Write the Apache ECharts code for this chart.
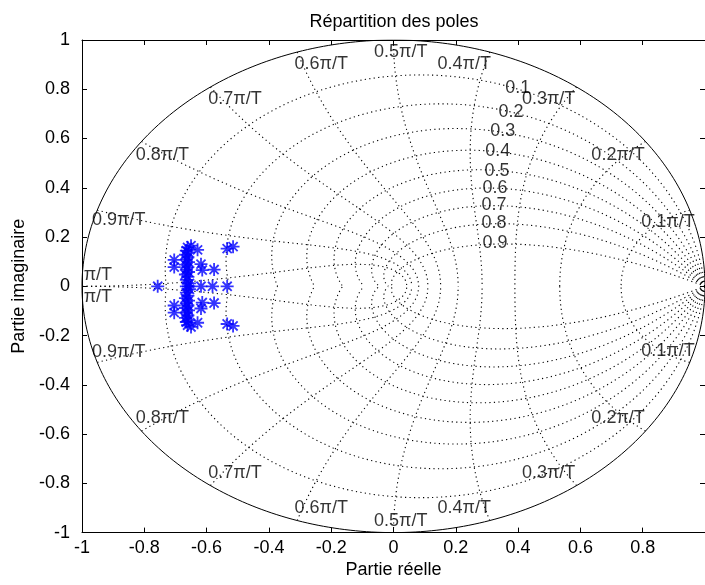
<!DOCTYPE html>
<html><head><meta charset="utf-8">
<script src="https://cdn.jsdelivr.net/npm/echarts@6/dist/echarts.min.js"></script>
<style>html,body{margin:0;padding:0;background:#fff}#c{width:705px;height:585px}</style>
</head><body><div id="c"></div>
<script>
// ---- data ----
const titleText = 'Répartition des poles';
const xName = 'Partie réelle';
const yName = 'Partie imaginaire';
const axisMin = -1, axisMax = 1, tickStep = 0.2;
// damping ratios and natural frequencies (× π/T) of the z-plane grid
const zetaValues = [0.1, 0.2, 0.3, 0.4, 0.5, 0.6, 0.7, 0.8, 0.9];
const wnValues = [0.1, 0.2, 0.3, 0.4, 0.5, 0.6, 0.7, 0.8, 0.9, 1.0];
// poles (real part, imaginary part)
const poleRe = [-0.757, -0.665, -0.658, -0.618, -0.581, -0.534,
  -0.661, -0.629, -0.704, -0.704, -0.618, -0.614, -0.576, -0.534, -0.515,
  -0.665, -0.658, -0.668, -0.660, -0.665, -0.658, -0.668, -0.660, -0.665, -0.658, -0.668, -0.660, -0.665, -0.655, -0.650,
  -0.661, -0.629, -0.704, -0.704, -0.618, -0.614, -0.576, -0.534, -0.515,
  -0.665, -0.658, -0.668, -0.660, -0.665, -0.658, -0.668, -0.660, -0.665, -0.658, -0.668, -0.660, -0.665, -0.655, -0.650];
const poleIm = [0, 0, 0, 0, 0, 0,
  0.158, 0.148, 0.107, 0.078, 0.090, 0.066, 0.068, 0.153, 0.161,
  0.145, 0.138, 0.128, 0.118, 0.108, 0.098, 0.088, 0.078, 0.068, 0.058, 0.048, 0.038, 0.026, 0.012, 0.165,
  -0.158, -0.148, -0.107, -0.078, -0.090, -0.066, -0.068, -0.153, -0.161,
  -0.145, -0.138, -0.128, -0.118, -0.108, -0.098, -0.088, -0.078, -0.068, -0.058, -0.048, -0.038, -0.026, -0.012, -0.165];
// grid labels: text, re, im
const zetaLabelText = ['0.1', '0.2', '0.3', '0.4', '0.5', '0.6', '0.7', '0.8', '0.9'];
const zetaLabelRe = [0.399, 0.377, 0.351, 0.335, 0.332, 0.326, 0.323, 0.323, 0.326];
const zetaLabelIm = [0.804, 0.707, 0.630, 0.548, 0.467, 0.398, 0.329, 0.256, 0.175];
const wnLabelText = ['0.1π/T', '0.2π/T', '0.3π/T', '0.4π/T', '0.5π/T', '0.6π/T', '0.7π/T', '0.8π/T', '0.9π/T', 'π/T'];
const wnLabelRe = [0.881, 0.721, 0.498, 0.227, 0.023, -0.232, -0.509, -0.742, -0.882, -0.949];
const wnLabelIm = [0.261, 0.533, 0.760, 0.902, 0.952, 0.902, 0.760, 0.533, 0.268, 0.045];

// ---- build ----
const FONT = 'Liberation Sans';
const FS = 18;
const N = 120;
function zetaCurve(z, sign) {
  const m = Math.tan(Math.asin(z));
  const pts = [];
  for (let i = 0; i <= N; i++) {
    const th = Math.PI * i / N;
    const r = Math.exp(-m * th);
    pts.push([r * Math.cos(th), sign * r * Math.sin(th)]);
  }
  return pts;
}
function wnCurve(w, sign) {
  const wn = w * Math.PI;
  const pts = [];
  for (let i = 0; i <= N; i++) {
    const z = i / N;
    const re = -z * wn, im = wn * Math.sqrt(1 - z * z);
    const r = Math.exp(re);
    pts.push([r * Math.cos(im), sign * r * Math.sin(im)]);
  }
  return pts;
}
const circle = [];
for (let i = 0; i <= 360; i++) { const a = i * Math.PI / 180; circle.push([Math.cos(a), Math.sin(a)]); }

const dotted = { color: '#000', width: 1.1, type: [1.2, 3.3] };
const series = [];
function addLine(pts, style) {
  series.push({ type: 'line', data: pts, showSymbol: false, symbol: 'none', silent: true,
    lineStyle: style, animation: false, clip: true, z: 2 });
}
zetaValues.forEach(z => { addLine(zetaCurve(z, 1), dotted); addLine(zetaCurve(z, -1), dotted); });
wnValues.forEach(w => { addLine(wnCurve(w, 1), dotted); addLine(wnCurve(w, -1), dotted); });
addLine(circle, { color: '#000', width: 1, type: 'solid' });

const labelData = [];
zetaLabelText.forEach((t, i) => labelData.push({ name: t, value: [zetaLabelRe[i], zetaLabelIm[i]] }));
wnLabelText.forEach((t, i) => {
  labelData.push({ name: t, value: [wnLabelRe[i], wnLabelIm[i]] });
  labelData.push({ name: t, value: [wnLabelRe[i], -wnLabelIm[i]] });
});
series.push({ type: 'scatter', data: labelData, symbolSize: 0, silent: true, animation: false, z: 3,
  label: { show: true, position: 'inside', formatter: '{b}', color: '#000', fontFamily: FONT, fontSize: FS } });

const star = 'path://M8.6 0 L11.4 0 L11.4 20 L8.6 20 Z M0 8.6 L20 8.6 L20 11.4 L0 11.4 Z M2.0 4.0 L4.0 2.0 L18.0 16.0 L16.0 18.0 Z M16.0 2.0 L18.0 4.0 L4.0 18.0 L2.0 16.0 Z';
series.push({ type: 'scatter', data: poleRe.map((r, i) => [r, poleIm[i]]), symbol: star, symbolSize: 13,
  itemStyle: { color: '#0000ff' }, animation: false, z: 5 });

const axisCommon = {
  type: 'value', min: axisMin, max: axisMax, interval: tickStep,
  axisLine: { show: true, onZero: false, lineStyle: { color: '#000', width: 1 } },
  axisTick: { show: true, inside: true, length: 5, lineStyle: { color: '#000' } },
  splitLine: { show: false },
};
const chart = echarts.init(document.getElementById('c'), null, { renderer: 'canvas' });
chart.setOption({
  backgroundColor: '#fff',
  animation: false,
  title: { text: titleText, left: 389, top: 8, textAlign: 'center',
    textStyle: { fontFamily: FONT, fontSize: FS, fontWeight: 'normal', color: '#000' } },
  grid: { left: 82, top: 40, width: 627.4, height: 492.6, containLabel: false },
  xAxis: [
    Object.assign({}, axisCommon, { position: 'bottom', name: xName, nameLocation: 'middle', nameGap: 24,
      nameTextStyle: { fontFamily: FONT, fontSize: FS, color: '#000' },
      axisLabel: { show: true, showMaxLabel: false, margin: 6, color: '#000', fontFamily: FONT, fontSize: FS } }),
    Object.assign({}, axisCommon, { position: 'top', axisLabel: { show: false } })
  ],
  yAxis: [
    Object.assign({}, axisCommon, { position: 'left', name: yName, nameLocation: 'middle', nameGap: 49,
      nameTextStyle: { fontFamily: FONT, fontSize: FS, color: '#000' },
      axisLabel: { show: true, margin: 12, color: '#000', fontFamily: FONT, fontSize: FS } }),
    Object.assign({}, axisCommon, { position: 'right', axisLabel: { show: false } })
  ],
  series: series
});
</script></body></html>
